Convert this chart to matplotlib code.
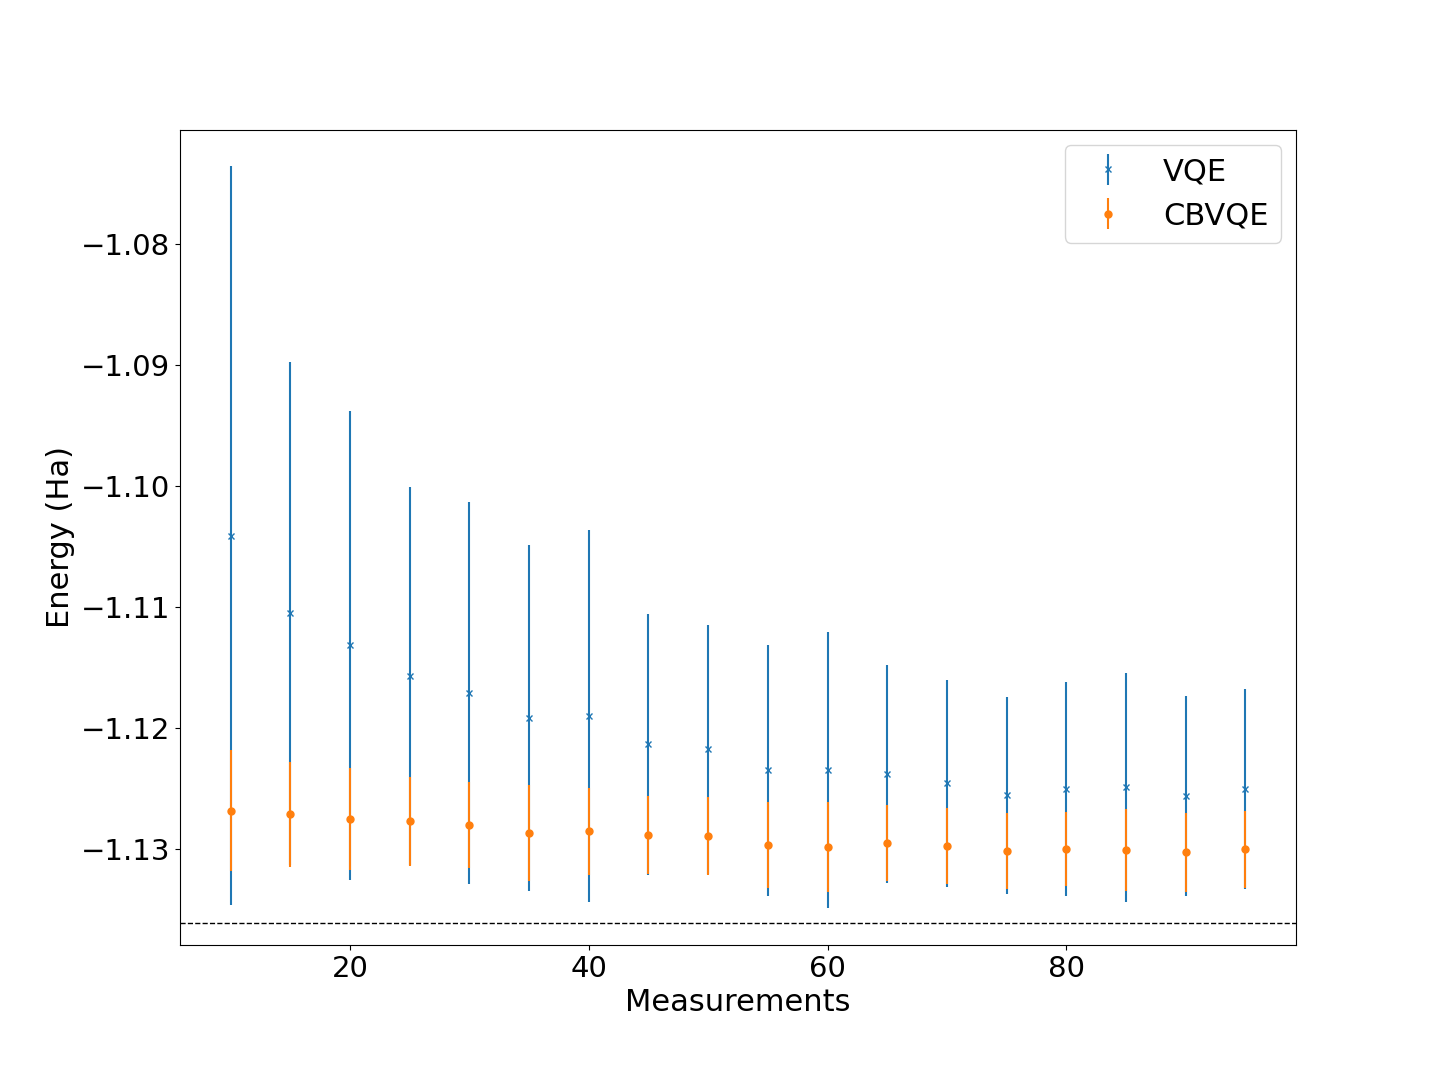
import matplotlib
matplotlib.use("Agg")
import matplotlib.pyplot as plt

measurements = [10, 15, 20, 25, 30, 35, 40, 45, 50, 55, 60, 65, 70, 75, 80, 85, 90, 95]

vqe_mean = [-1.10411, -1.11050, -1.11314, -1.11570, -1.11711, -1.11917, -1.11901, -1.12132, -1.12174,
            -1.12347, -1.12347, -1.12380, -1.12455, -1.12554, -1.12504, -1.12488, -1.12562, -1.12504]
vqe_err = [0.03052, 0.02077, 0.01936, 0.01564, 0.01579, 0.01429, 0.01536, 0.01077, 0.01027,
           0.01036, 0.01139, 0.00901, 0.00854, 0.00813, 0.00883, 0.00945, 0.00825, 0.00825]

cbvqe_mean = [-1.12683, -1.12711, -1.12752, -1.12769, -1.12802, -1.12868, -1.12851, -1.12884, -1.12893,
              -1.12967, -1.12983, -1.12950, -1.12975, -1.13017, -1.13000, -1.13008, -1.13025, -1.13000]
cbvqe_err = [0.00500, 0.00433, 0.00421, 0.00368, 0.00355, 0.00397, 0.00361, 0.00322, 0.00321,
             0.00355, 0.00371, 0.00313, 0.00315, 0.00315, 0.00306, 0.00339, 0.00325, 0.00319]

exact_energy = -1.13607

plt.rcParams['font.size'] = 22
plt.rcParams['xtick.labelsize'] = 21
plt.rcParams['ytick.labelsize'] = 21

fig, ax = plt.subplots(figsize=(14.4, 10.8), dpi=100)
fig.subplots_adjust(left=0.125, right=0.9, top=0.88, bottom=0.125)

ax.errorbar(measurements, vqe_mean, yerr=vqe_err, fmt='x', markersize=4.5, label='VQE')
ax.errorbar(measurements, cbvqe_mean, yerr=cbvqe_err, fmt='o', markersize=5, label='CBVQE')
ax.axhline(exact_energy, color='k', linestyle='--', linewidth=1)

ax.set_xlim(5.75, 99.25)
ax.set_ylim(-1.13791, -1.07055)
ax.set_xlabel('Measurements')
ax.set_ylabel('Energy (Ha)')
ax.legend(loc='upper right')

plt.savefig("out.png")
